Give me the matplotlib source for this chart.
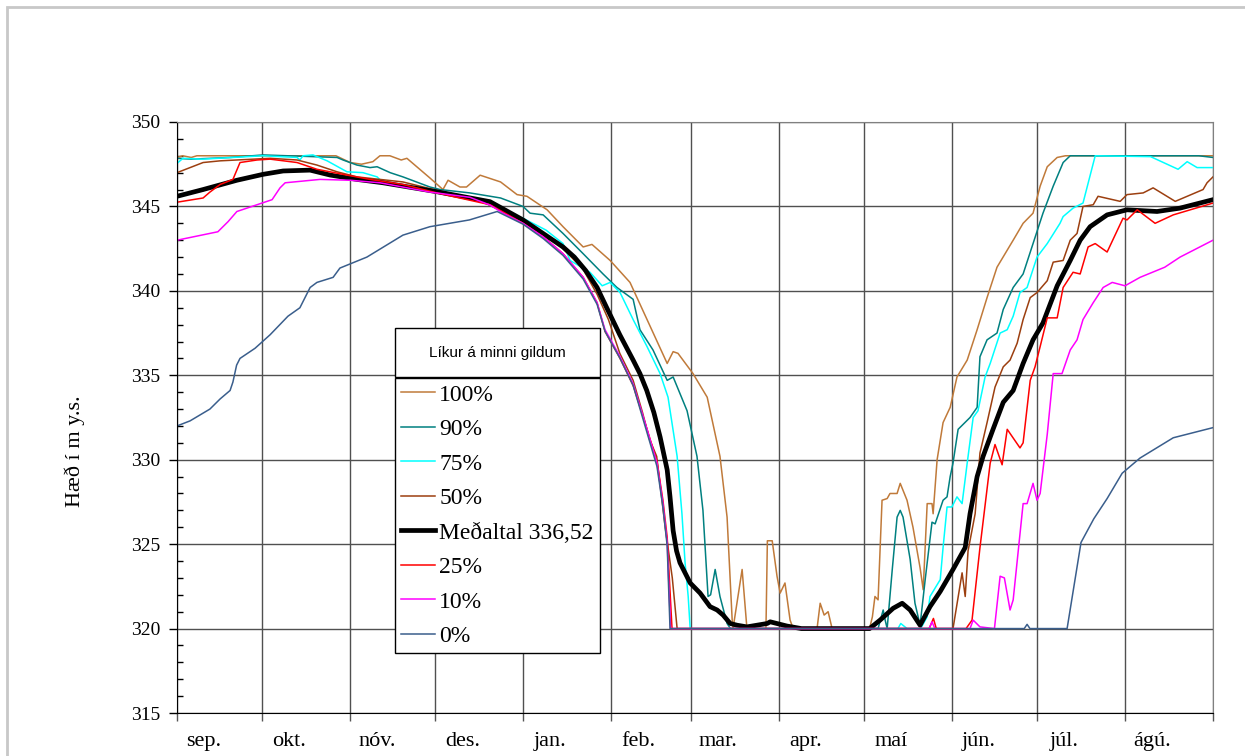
import matplotlib
matplotlib.use("Agg")
import matplotlib.pyplot as plt
from matplotlib.patches import Rectangle

# days counted from 1 Sep, 365 day hydrological year
month_labels = ["sep.", "okt.", "nóv.", "des.", "jan.", "feb.",
                "mar.", "apr.", "maí", "jún.", "júl.", "ágú."]
month_start = [0, 30, 61, 91, 122, 153, 181, 212, 242, 273, 303, 334, 365]

d100 = [0, 2, 5, 7, 30, 56, 61, 65, 69, 71.5, 75, 79, 81, 89, 93.7, 95.5, 99.7, 102, 106.8,
        114, 119.8, 123.3, 130.4, 136, 143.1, 146.2, 152.6, 159.6, 166.7, 172.7, 174.8,
        176.5, 181.8, 186.8, 191.3, 193.8, 195.6, 195.9, 199.1, 200.8, 207.5, 208, 209.7,
        211.4, 212.5, 214.2, 216, 217.1, 225.5, 226.6, 228, 229.4, 230.8, 244, 245, 245.9,
        247, 248.4, 250.2, 251.2, 253.7, 254.8, 257.2, 259.3, 261.8, 262.9, 264.3, 266,
        266.4, 267.8, 269.9, 272.4, 274.8, 278.4, 281.9, 285.4, 288.9, 294.6, 298.1, 301.6,
        304.1, 306.6, 310.1, 313, 365]
v100 = [347.9, 348.0, 347.9, 348.0, 348.0, 348.0, 347.6, 347.5, 347.65, 348.0, 348.0, 347.75,
        347.85, 346.7, 346.0, 346.55, 346.15, 346.15, 346.85, 346.45, 345.7, 345.6, 344.8,
        343.8, 342.6, 342.75, 341.8, 340.5, 337.9, 335.7, 336.4, 336.3, 335.1, 333.7, 330.2,
        326.6, 320.5, 320.0, 323.5, 320.0, 320.0, 325.2, 325.2, 323.1, 322.1, 322.7, 320.5,
        320.0, 320.0, 321.5, 320.8, 321.0, 320.0, 320.0, 320.7, 321.9, 321.7, 327.6, 327.7,
        328.0, 328.0, 328.6, 327.6, 326.0, 323.6, 322.3, 327.4, 327.4, 326.8, 330.0, 332.2,
        333.1, 334.9, 335.9, 337.7, 339.6, 341.4, 343.0, 344.0, 344.6, 346.2, 347.35, 347.9,
        348.0, 348.0]

d90 = [0, 5, 18.7, 30.3, 56.4, 58.5, 63.4, 68, 70.5, 75.1, 79.6, 89.1, 92.7, 103.2, 114,
       121.9, 124.4, 129, 136, 143.1, 150.1, 155, 160.7, 163.1, 167.7, 172.7, 174.8, 179.7,
       183.2, 185.3, 187.1, 188, 189.6, 191.3, 193.8, 195, 247, 248.8, 249.5, 250.2, 252,
       253.7, 254.8, 255.8, 258.3, 260, 261.8, 263.6, 266, 267.1, 269.9, 271.3, 272.4,
       273.4, 275.2, 279.4, 281.9, 282.9, 285.4, 288.9, 291.1, 294.6, 298.1, 301.6, 305.1,
       308.7, 312.2, 314.7, 360, 365]
v90 = [347.85, 347.8, 347.9, 348.05, 347.9, 347.75, 347.45, 347.3, 347.35, 347.0, 346.75,
       346.15, 346.0, 345.8, 345.5, 345.0, 344.6, 344.5, 343.4, 342.2, 341.0, 340.2, 339.5,
       337.7, 336.5, 334.7, 334.9, 332.9, 330.2, 327.0, 321.9, 322.0, 323.5, 321.9, 320.3,
       320.0, 320.0, 321.1, 320.5, 320.0, 323.5, 326.6, 327.0, 326.6, 324.1, 321.5, 320.2,
       322.9, 326.3, 326.2, 327.6, 327.8, 329.0, 329.8, 331.8, 332.5, 333.1, 336.1, 337.1,
       337.5, 338.9, 340.2, 341.0, 342.8, 344.6, 346.2, 347.6, 348.0, 348.0, 347.9]

d75 = [0, 2.1, 9, 30.3, 42.3, 43.3, 44.4, 47.9, 52.9, 59.9, 65.5, 70.5, 72.6, 91.6, 106.8,
       121.9, 130, 136, 138.5, 145.5, 149.8, 152.6, 156.1, 160.7, 165.6, 170.2, 173, 176.2,
       177.9, 179, 180.1, 180.8, 254, 255, 257.2, 262, 264.3, 265.3, 268.9, 269.9, 271.3,
       273, 274.8, 276.6, 278.4, 280.5, 282.2, 284.7, 286.5, 290, 292.5, 294.6, 297, 299.5,
       303, 306.6, 311.1, 312.2, 315.7, 319.2, 323.5, 343, 352.7, 355.9, 359.4, 365]
v75 = [347.55, 347.85, 347.8, 348.0, 347.9, 347.75, 348.0, 348.05, 347.7, 347.05, 347.0,
       346.75, 346.4, 345.9, 345.3, 344.3, 343.6, 342.8, 341.8, 341.1, 340.3, 340.5, 339.9,
       338.3, 336.7, 335.1, 333.7, 330.2, 326.8, 323.9, 321.9, 320.0, 320.0, 320.3, 320.0,
       320.0, 320.7, 321.9, 322.9, 324.8, 327.2, 327.2, 327.8, 327.4, 329.8, 332.5, 332.9,
       334.9, 335.7, 337.5, 337.7, 338.5, 339.9, 340.2, 342.0, 342.8, 344.0, 344.4, 344.9,
       345.2, 348.0, 347.95, 347.2, 347.65, 347.3, 347.3]

d50 = [0, 4.6, 9.2, 15.2, 32.8, 42.3, 49.3, 56.4, 63.4, 79.6, 91.6, 106.8, 121.9, 130, 136,
       143, 148, 152, 156, 160.7, 164, 166.5, 169, 172, 174.5, 176.2, 273.4, 276.6, 277.7,
       278.7, 281.2, 282.9, 285.4, 288.2, 291.1, 293.5, 296, 298.1, 300.6, 303, 306.6, 308.7,
       312.2, 314.7, 317.1, 319.2, 322.8, 324.5, 332.3, 334.7, 340.4, 343.9, 351.7, 361.5,
       362.9, 365]
v50 = [347.0, 347.3, 347.6, 347.7, 347.85, 347.75, 347.45, 347.05, 346.75, 346.45, 345.95,
       345.35, 344.1, 343.3, 342.5, 341.3, 339.8, 338.3, 336.3, 334.7, 332.8, 331.2, 330.2,
       326.0, 323.0, 320.0, 320.0, 323.3, 321.9, 324.6, 326.8, 330.4, 332.2, 334.3, 335.5,
       335.9, 336.9, 338.3, 339.6, 339.9, 340.6, 341.7, 341.8, 343.0, 343.4, 345.0, 345.1,
       345.6, 345.3, 345.7, 345.8, 346.1, 345.3, 346.0, 346.4, 346.75]

d_mean = [0, 9.2, 21.1, 30.3, 37.4, 46.9, 53.9, 63.4, 72.6, 91.6, 110.3, 121.9, 136, 140, 144,
          148, 151.4, 156, 160.7, 163.1, 165.5, 168, 170.2, 172.7, 173.7, 174.8, 176, 177.2,
          180.8, 184.3, 187.8, 190.3, 192.4, 194.9, 197.3, 200.8, 207.9, 209, 214.9, 220, 244,
          247.7, 252.3, 255.5, 258.3, 261.8, 265.3, 268.9, 273.4, 277.7, 279.4, 281.9, 284,
          287.5, 291.1, 294.6, 298.1, 301.6, 305.1, 310.1, 314.7, 318.2, 321.7, 327.7, 334.7,
          345.3, 353.4, 365]
v_mean = [345.6, 346.0, 346.55, 346.9, 347.1, 347.15, 346.86, 346.6, 346.4, 345.87, 345.28,
          344.2, 342.6, 342.0, 341.2, 340.2, 339.0, 337.4, 335.9, 335.1, 334.1, 332.8, 331.35,
          329.4, 327.8, 325.8, 324.6, 323.9, 322.7, 322.1, 321.3, 321.1, 320.8, 320.3, 320.2,
          320.1, 320.3, 320.4, 320.15, 320.0, 320.0, 320.5, 321.2, 321.5, 321.1, 320.2, 321.3,
          322.2, 323.5, 324.8, 326.8, 329.0, 330.2, 331.8, 333.4, 334.1, 335.7, 337.1, 338.1,
          340.3, 341.8, 343.0, 343.8, 344.5, 344.8, 344.7, 344.9, 345.4]

d25 = [0, 9.2, 11.6, 15.2, 19.7, 22.2, 28.2, 32.8, 42.3, 49.3, 58.5, 68, 79.6, 91.6, 110.3,
       121.9, 129, 136, 143.1, 148, 150.8, 156.1, 160.7, 165.6, 169.1, 171.2, 172.7, 174.4,
       265, 266.5, 267.5, 278, 280.1, 282.9, 286.5, 288.2, 290.7, 292.5, 297, 298.1, 300.6,
       302.3, 304.1, 306.6, 310.1, 312.2, 315.7, 318.2, 321, 323.5, 327.7, 333.3, 334.7,
       338.3, 344.6, 351, 365]
v25 = [345.25, 345.5, 345.85, 346.3, 346.6, 347.6, 347.75, 347.8, 347.6, 347.2, 346.9, 346.6,
       346.3, 345.8, 345.1, 344.0, 343.2, 342.2, 340.8, 339.3, 337.6, 336.0, 334.4, 331.8,
       329.9, 327.6, 325.4, 320.0, 320.0, 320.6, 320.0, 320.0, 320.5, 324.8, 329.8, 330.9,
       329.7, 331.8, 330.7, 331.0, 334.7, 335.5, 336.7, 338.4, 338.4, 340.2, 341.1, 341.0,
       342.6, 342.8, 342.3, 344.3, 344.2, 344.8, 344.0, 344.5, 345.2]

d10 = [0, 14.4, 18, 21.1, 33.5, 36.3, 38.1, 50.4, 61, 71.5, 89.1, 103.2, 110.3, 114.9, 121.9,
       129, 136, 143.1, 148, 150.8, 156.1, 160.7, 165.6, 169.1, 171.2, 172.7, 173.9, 265,
       266, 267, 279.4, 280.5, 282.9, 288, 290, 291.5, 293.5, 294.6, 298.1, 299.5, 301.6,
       303, 304.1, 306.6, 308.7, 311.8, 314.7, 317.1, 319.2, 322.8, 326.3, 329.5, 334,
       339.3, 348, 353.4, 365]
v10 = [343.0, 343.5, 344.1, 344.7, 345.4, 346.1, 346.4, 346.6, 346.55, 346.4, 345.85, 345.54,
       345.08, 344.6, 344.0, 343.2, 342.2, 340.8, 339.3, 337.7, 336.1, 334.5, 331.8, 329.8,
       327.4, 325.1, 320.0, 320.0, 320.4, 320.0, 320.0, 320.5, 320.1, 320.0, 323.1, 323.0,
       321.1, 321.7, 327.4, 327.4, 328.6, 327.6, 328.0, 331.5, 335.1, 335.1, 336.5, 337.1,
       338.3, 339.3, 340.2, 340.5, 340.3, 340.8, 341.4, 342.0, 343.0]

d0 = [0, 4.6, 11.6, 15.2, 18.7, 19.7, 21, 22.2, 27.5, 32.8, 39.1, 43.3, 46.9, 49.3, 55, 57.4,
      66.9, 79.6, 89.1, 103, 112.8, 121.9, 129, 136, 143.1, 148, 150.8, 156.1, 160.7, 165.6,
      169.1, 171.2, 172.7, 173.7, 298.5, 299.5, 300.5, 313.6, 318.5, 323, 327.7, 333,
      339.3, 351, 365]
v0 = [332.0, 332.3, 333.0, 333.6, 334.1, 334.6, 335.6, 336.0, 336.6, 337.4, 338.5, 339.0,
      340.2, 340.5, 340.8, 341.35, 342.0, 343.3, 343.8, 344.2, 344.7, 343.95, 343.1, 342.1,
      340.7, 339.2, 337.6, 336.0, 334.4, 331.6, 329.6, 327.2, 324.9, 320.0, 320.0, 320.25,
      320.0, 320.0, 325.1, 326.5, 327.7, 329.2, 330.1, 331.3, 331.9]

series = [
    ("100%", d100, v100, "#C07A3A", 1.1),
    ("90%", d90, v90, "#008080", 1.1),
    ("75%", d75, v75, "#00FFFF", 1.1),
    ("50%", d50, v50, "#9C3F10", 1.1),
    ("Meðaltal 336,52", d_mean, v_mean, "black", 3.4),
    ("25%", d25, v25, "#FF0000", 1.1),
    ("10%", d10, v10, "#FF00FF", 1.1),
    ("0%", d0, v0, "#3A5E8C", 1.1),
]

W, H = 1245, 756
fig = plt.figure(figsize=(W / 100, H / 100), dpi=100)
ax = fig.add_axes([177 / W, 1 - 713 / H, (1213 - 177) / W, (713 - 122) / H])

serif = ["Liberation Serif", "DejaVu Serif"]

handles = []
for name, d, v, c, lw in series:
    ln, = ax.plot(d, v, color=c, lw=lw, label=name, solid_joinstyle="round")
    handles.append(ln)

ax.set_xlim(0, 365)
ax.set_ylim(315, 350)

# month gridlines, labels placed a little after the month start
ax.set_xticks(month_start)
ax.set_xticklabels([])
ax.set_xticks([m + 9.5 for m in month_start[:-1]], minor=True)
ax.set_xticklabels(month_labels, minor=True, fontfamily=serif, fontsize=16)
ax.tick_params(axis="x", which="major", direction="out", length=6, width=1, color="#555555")
ax.tick_params(axis="x", which="minor", length=0, pad=14)

ax.set_yticks(range(315, 351, 5))
ax.set_yticks(range(315, 351), minor=True)
ax.set_yticklabels([str(t) for t in range(315, 351, 5)], fontfamily=serif, fontsize=14)
ax.tick_params(axis="y", which="major", direction="out", length=6, width=1, pad=6)
ax.tick_params(axis="y", which="minor", direction="in", length=4, width=1)

ax.grid(True, which="major", color="#505050", lw=1)
ax.set_axisbelow(True)
for s in ["top", "right"]:
    ax.spines[s].set_color("#808080")
for s in ["left", "bottom"]:
    ax.spines[s].set_color("black")

fig.text(75 / W, 1 - 451 / H, "Hæð í m y.s.", rotation=90, ha="center", va="center",
         fontfamily=serif, fontsize=16)

# legend title box
fig.patches.append(Rectangle((395 / W, 1 - 377 / H), 205 / W, 49 / H, transform=fig.transFigure,
                             facecolor="white", edgecolor="black", lw=1, zorder=5))
fig.text(497.5 / W, 1 - 353 / H, "Líkur á minni gildum", ha="center", va="center",
         fontfamily=["Liberation Sans", "DejaVu Sans"], fontsize=11, zorder=6)

leg = ax.legend(handles=handles, loc="upper left", bbox_to_anchor=(395 / W, 1 - 378 / H),
                bbox_transform=fig.transFigure, borderaxespad=0, fancybox=False,
                framealpha=1, edgecolor="black", prop={"family": serif, "size": 17},
                handlelength=1.44, handletextpad=0.17, labelspacing=0.55, borderpad=0.26)
leg.get_frame().set_linewidth(1)

# light outer chart border
fig.patches.append(Rectangle((7 / W, -0.1), 1.2, 1 - 7 / H + 0.1, transform=fig.transFigure,
                             facecolor="none", edgecolor="#C8C8C8", lw=2))

fig.savefig("out.png", dpi=100)
